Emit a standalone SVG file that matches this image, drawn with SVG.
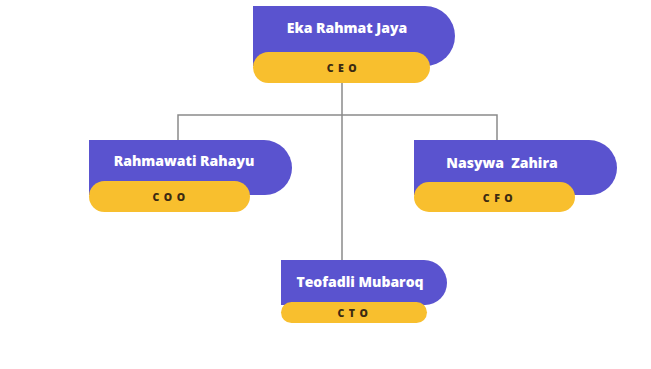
<svg xmlns="http://www.w3.org/2000/svg" width="651" height="369" viewBox="0 0 651 369">
<style>
.box{fill:#5a53cf}
.pill{fill:#f8bf2e}
.name{font-family:"Open Sans","Liberation Sans",sans-serif;font-weight:800;font-size:14px;fill:#ffffff;text-anchor:middle}
.role{font-family:"Open Sans","Liberation Sans",sans-serif;font-weight:800;font-size:10.5px;fill:#3b2a12;text-anchor:middle;letter-spacing:4.5px}
.line{stroke:#8a8a8a;stroke-width:1.5;fill:none}
</style>
<rect width="651" height="369" fill="#ffffff"/>
<g id="connectors">
<path class="line" d="M342 83 V260"/>
<path class="line" d="M178 140 V115 H497 V140"/>
</g>
<g id="ceo">
<path class="box" d="M253 6 H425 A30 30 0 0 1 455 36 A30 30 0 0 1 425 66 H253 Z"/>
<rect class="pill" x="253" y="52" width="177" height="31" rx="15.5"/>
<text class="name" x="347" y="33">Eka Rahmat Jaya</text>
<text class="role" x="344" y="71.5">CEO</text>
</g>
<g id="coo">
<path class="box" d="M89 140 H264 A28 28 0 0 1 292 168 A27 27 0 0 1 265 195 H89 Z"/>
<rect class="pill" x="89" y="181" width="161" height="31" rx="15.5"/>
<text class="name" x="184" y="166">Rahmawati Rahayu</text>
<text class="role" x="171" y="200.5">COO</text>
</g>
<g id="cfo">
<path class="box" d="M414 140 H589 A28 28 0 0 1 617 168 A27 27 0 0 1 590 195 H414 Z"/>
<rect class="pill" x="414" y="182" width="161" height="30" rx="15"/>
<text class="name" x="502" y="168">Nasywa&#160; Zahira</text>
<text class="role" x="500" y="201.5">CFO</text>
</g>
<g id="cto">
<path class="box" d="M281 260 H424 A23 23 0 0 1 447 283 A22 22 0 0 1 425 305 H281 Z"/>
<rect class="pill" x="281" y="302" width="146" height="21" rx="10.5"/>
<text class="name" x="360" y="287">Teofadli Mubaroq</text>
<text class="role" x="355" y="316.5">CTO</text>
</g>
</svg>
